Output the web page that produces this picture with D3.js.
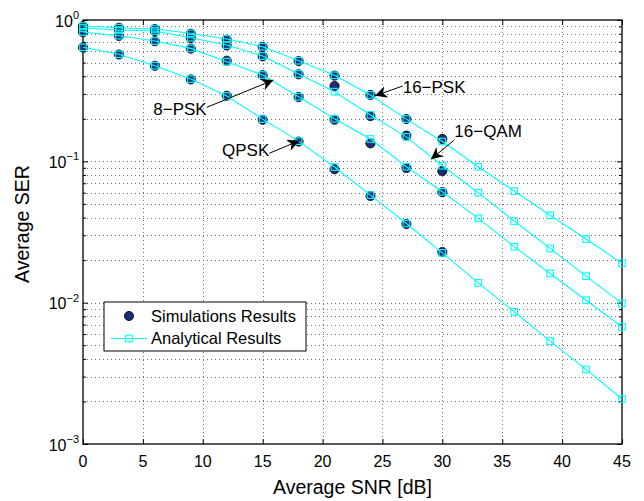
<!DOCTYPE html>
<html>
<head>
<meta charset="utf-8">
<script src="https://cdn.jsdelivr.net/npm/d3@7"></script>
<style>
  body { margin: 0; background: #fff; }
  svg { display: block; font-family: "Liberation Sans", Arial, sans-serif; }
</style>
</head>
<body>
<svg id="chart" width="644" height="501"></svg>
<script>
// SNR grid (dB)
const snrAnalytic = [0, 3, 6, 9, 12, 15, 18, 21, 24, 27, 30, 33, 36, 39, 42, 45];
const snrSim = [0, 3, 6, 9, 12, 15, 18, 21, 24, 27, 30];

// analytical SER curves
const psk16Analytic = [0.907, 0.882, 0.864, 0.805, 0.734, 0.647, 0.515, 0.406, 0.295, 0.199, 0.138, 0.0916, 0.0616, 0.0415, 0.0282, 0.0190];
const qam16Analytic = [0.878, 0.850, 0.836, 0.749, 0.665, 0.556, 0.415, 0.311, 0.213, 0.149, 0.0931, 0.0600, 0.0378, 0.0242, 0.0154, 0.00989];
const psk8Analytic = [0.822, 0.774, 0.710, 0.630, 0.507, 0.408, 0.286, 0.200, 0.144, 0.0916, 0.0609, 0.0395, 0.0249, 0.0161, 0.0104, 0.00675];
const qpskAnalytic = [0.641, 0.572, 0.475, 0.382, 0.290, 0.199, 0.139, 0.0912, 0.0577, 0.0363, 0.0225, 0.0138, 0.00862, 0.00535, 0.00337, 0.00208];

// simulated SER points
const psk16Sim = [0.905, 0.880, 0.862, 0.800, 0.725, 0.645, 0.512, 0.404, 0.295, 0.199, 0.144];
const qam16Sim = [0.876, 0.850, 0.833, 0.745, 0.660, 0.553, 0.413, 0.341, 0.209, 0.152, 0.0854];
const psk8Sim = [0.820, 0.772, 0.708, 0.627, 0.515, 0.407, 0.285, 0.197, 0.134, 0.0897, 0.0605];
const qpskSim = [0.640, 0.570, 0.474, 0.380, 0.291, 0.197, 0.138, 0.088, 0.0569, 0.0360, 0.0228];

const yMajor = [1e-3, 1e-2, 1e-1, 1];
const yExp = ["\u22123", "\u22122", "\u22121", "0"];
const xTicks = [0, 5, 10, 15, 20, 25, 30, 35, 40, 45];

// arrow annotations: tip and tail in (SNR, SER)
const notes = [
  { label: "8\u2212PSK", tip: [15.9, 0.376], tail: [10.33, 0.241], side: "left", dy: 8 },
  { label: "QPSK", tip: [18.06, 0.140], tail: [15.55, 0.114], side: "left", dy: 3 },
  { label: "16\u2212PSK", tip: [24.38, 0.291], tail: [26.69, 0.341], side: "right", dy: 7 },
  { label: "16\u2212QAM", tip: [29.05, 0.1034], tail: [31.0, 0.1416], side: "right", dy: -3 }
];

const series = [
  { ana: psk16Analytic, sim: psk16Sim },
  { ana: qam16Analytic, sim: qam16Sim },
  { ana: psk8Analytic, sim: psk8Sim },
  { ana: qpskAnalytic, sim: qpskSim }
];

const plotL = 83, plotR = 622, plotT = 20, plotB = 444;
const cyan = "#00ffff";
const dotFill = "#1b2c78";

const svg = d3.select("#chart");
const x = d3.scaleLinear().domain([0, 45]).range([plotL, plotR]);
const y = d3.scaleLog().domain([1e-3, 1]).range([plotB, plotT]);

const yMinor = [];
for (const d of [1e-3, 1e-2, 1e-1]) for (let k = 2; k <= 9; k++) yMinor.push(d * k);

// grid
const grid = svg.append("g").attr("stroke", "#444").attr("stroke-width", 1)
  .attr("stroke-dasharray", "1,3").attr("opacity", 0.75);
grid.selectAll("line.v").data(xTicks.slice(1, -1)).join("line")
  .attr("x1", d => Math.round(x(d)) + 0.5).attr("x2", d => Math.round(x(d)) + 0.5)
  .attr("y1", plotT).attr("y2", plotB);
grid.selectAll("line.h").data(yMinor.concat(yMajor.slice(1, -1))).join("line")
  .attr("y1", d => Math.round(y(d)) + 0.5).attr("y2", d => Math.round(y(d)) + 0.5)
  .attr("x1", plotL).attr("x2", plotR);

// axes with inward ticks on all sides
function drawAxis(axis, tx, ty) {
  const g = svg.append("g").attr("transform", `translate(${tx},${ty})`).call(axis);
  g.select(".domain").remove();
  g.selectAll("line").attr("stroke", "#000");
  return g;
}
drawAxis(d3.axisBottom(x).tickValues(xTicks).tickSize(-5).tickFormat(""), 0, plotB);
drawAxis(d3.axisTop(x).tickValues(xTicks).tickSize(-5).tickFormat(""), 0, plotT);
drawAxis(d3.axisLeft(y).tickValues(yMajor).tickSize(-5).tickFormat(""), plotL, 0);
drawAxis(d3.axisRight(y).tickValues(yMajor).tickSize(-5).tickFormat(""), plotR, 0);
drawAxis(d3.axisLeft(y).tickValues(yMinor).tickSize(-3).tickFormat(""), plotL, 0);
drawAxis(d3.axisRight(y).tickValues(yMinor).tickSize(-3).tickFormat(""), plotR, 0);

svg.append("rect").attr("x", plotL).attr("y", plotT)
  .attr("width", plotR - plotL).attr("height", plotB - plotT)
  .attr("fill", "none").attr("stroke", "#000").attr("stroke-width", 1.3);

// tick labels
svg.append("g").selectAll("text").data(xTicks).join("text")
  .attr("x", d => x(d)).attr("y", 467).attr("text-anchor", "middle")
  .attr("font-size", 16).text(d => d);

const yl = svg.append("g").selectAll("text").data(yMajor).join("text")
  .attr("x", 79).attr("y", d => y(d) + 6.5).attr("text-anchor", "end")
  .attr("font-size", 16);
yl.append("tspan").text("10");
yl.append("tspan").attr("dy", -7.5).attr("font-size", 11).text((d, i) => yExp[i]);

// axis titles
svg.append("text").attr("x", (plotL + plotR) / 2).attr("y", 494)
  .attr("text-anchor", "middle").attr("font-size", 19.5).text("Average SNR [dB]");
svg.append("text").attr("transform", `translate(29,${(plotT + plotB) / 2 - 8}) rotate(-90)`)
  .attr("text-anchor", "middle").attr("font-size", 19.5).text("Average SER");

// data
const line = d3.line().x((d, i) => x(snrAnalytic[i])).y(d => y(d));
const plot = svg.append("g");
series.forEach(s => {
  plot.append("g").selectAll("circle").data(s.sim).join("circle")
    .attr("cx", (d, i) => x(snrSim[i])).attr("cy", d => y(d)).attr("r", 4.6)
    .attr("fill", dotFill).attr("stroke", "#000").attr("stroke-width", 0.8);
});
series.forEach(s => {
  plot.append("path").datum(s.ana).attr("d", line)
    .attr("fill", "none").attr("stroke", cyan).attr("stroke-width", 1.1);
  plot.append("g").selectAll("rect").data(s.ana).join("rect")
    .attr("x", (d, i) => x(snrAnalytic[i]) - 3.3).attr("y", d => y(d) - 3.3)
    .attr("width", 6.6).attr("height", 6.6)
    .attr("fill", "none").attr("stroke", cyan).attr("stroke-width", 1.1);
});

// annotations
svg.append("defs").append("marker").attr("id", "head")
  .attr("viewBox", "0 0 10 10").attr("refX", 10).attr("refY", 5)
  .attr("markerWidth", 12).attr("markerHeight", 12).attr("markerUnits", "userSpaceOnUse")
  .attr("orient", "auto")
  .append("path").attr("d", "M0,0 L10,5 L0,10 L3,5 Z").attr("fill", "#000");

const ann = svg.append("g");
notes.forEach(n => {
  const tx = x(n.tail[0]), ty = y(n.tail[1]);
  ann.append("line").attr("x1", tx).attr("y1", ty)
    .attr("x2", x(n.tip[0])).attr("y2", y(n.tip[1]))
    .attr("stroke", "#000").attr("stroke-width", 1).attr("marker-end", "url(#head)");
  ann.append("text").attr("x", tx)
    .attr("y", ty + n.dy)
    .attr("text-anchor", n.side === "left" ? "end" : "start")
    .attr("font-size", 17).text(n.label);
});

// legend
const lg = svg.append("g").attr("transform", "translate(104,302)");
lg.append("rect").attr("width", 202).attr("height", 49)
  .attr("fill", "#fff").attr("stroke", "#000").attr("stroke-width", 1);
lg.append("circle").attr("cx", 25).attr("cy", 14).attr("r", 4.6)
  .attr("fill", dotFill).attr("stroke", "#000").attr("stroke-width", 0.8);
lg.append("text").attr("x", 47).attr("y", 20).attr("font-size", 16.5).text("Simulations Results");
lg.append("line").attr("x1", 7).attr("x2", 43).attr("y1", 36.5).attr("y2", 36.5)
  .attr("stroke", cyan).attr("stroke-width", 1.1);
lg.append("rect").attr("x", 21.7).attr("y", 33.2).attr("width", 6.6).attr("height", 6.6)
  .attr("fill", "none").attr("stroke", cyan).attr("stroke-width", 1.1);
lg.append("text").attr("x", 47).attr("y", 42).attr("font-size", 16.5).text("Analytical Results");
</script>
</body>
</html>
